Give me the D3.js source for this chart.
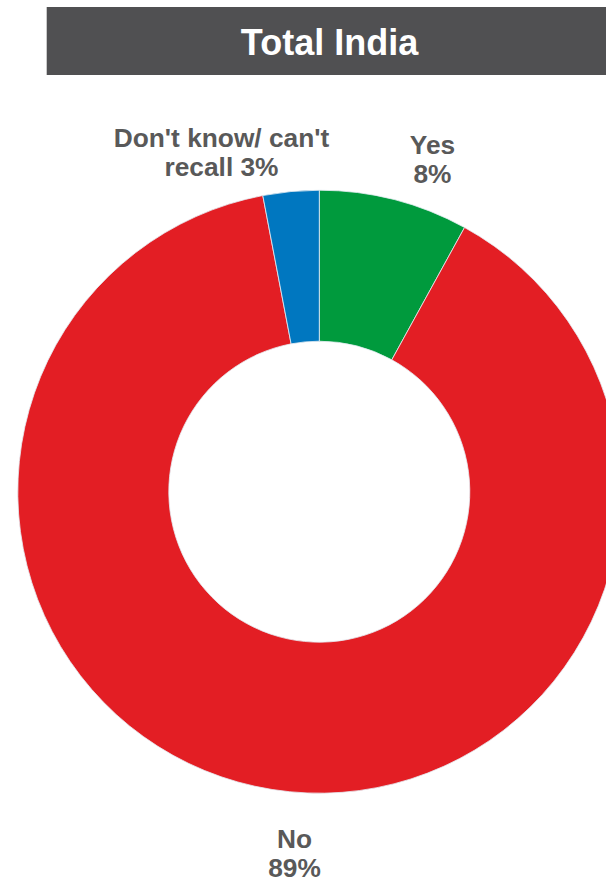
<!DOCTYPE html>
<html>
<head>
<meta charset="utf-8">
<script src="https://cdn.jsdelivr.net/npm/d3@7/dist/d3.min.js"></script>
<style>
  html, body { margin: 0; padding: 0; background: #ffffff; }
  svg { display: block; }
  text { font-family: "Liberation Sans", Arial, Helvetica, sans-serif; }
</style>
</head>
<body>
<div id="chart"></div>
<script>
// Survey answers, drawn clockwise from 12 o'clock
const categories = ["Yes", "No", "Don't know/ can't recall"];
const values = [8, 89, 3];
const labelLines = [["Yes", "8%"], ["No", "89%"], ["Don't know/ can't", "recall 3%"]];
const colors = ["#009a3d", "#e31e24", "#0077c0"];
const title = "Total India";

const width = 606, height = 882;
const cx = 319.3, cy = 491.7;
const outerR = 301.5, innerR = 150.5;

// Label anchor points (centre x, first baseline y) for each slice
const labelAnchors = [[432.5, 154], [294.5, 847.5], [221.5, 147]];
const lineGap = 29.3;

const svg = d3.select("#chart").append("svg")
  .attr("width", width)
  .attr("height", height);

// Title banner
svg.append("rect")
  .attr("x", 46.7).attr("y", 7)
  .attr("width", width - 46.7).attr("height", 68)
  .attr("fill", "#505052");

svg.append("text")
  .attr("x", 329.5).attr("y", 55)
  .attr("text-anchor", "middle")
  .attr("font-weight", "bold")
  .attr("font-size", 36)
  .attr("fill", "#ffffff")
  .text(title);

// Donut
const pie = d3.pie().sort(null).value(d => d.value);
const arc = d3.arc().innerRadius(innerR).outerRadius(outerR);

const data = categories.map((c, i) => ({ category: c, value: values[i], color: colors[i], lines: labelLines[i] }));

const g = svg.append("g").attr("transform", `translate(${cx},${cy})`);
g.selectAll("path.slice")
  .data(pie(data))
  .join("path")
  .attr("class", "slice")
  .attr("d", arc)
  .attr("fill", d => d.data.color)
  .attr("stroke", "#e4ecf2")
  .attr("stroke-width", 0.8);

// Category labels with percentages
const labels = svg.append("g")
  .attr("font-weight", "bold")
  .attr("font-size", 26.3)
  .attr("fill", "#595959")
  .attr("text-anchor", "middle");

data.forEach((d, i) => {
  const [lx, ly] = labelAnchors[i];
  const t = labels.append("text").attr("x", lx).attr("y", ly);
  d.lines.forEach((line, k) => {
    t.append("tspan").attr("x", lx).attr("y", ly + k * lineGap).text(line);
  });
});
</script>
</body>
</html>
